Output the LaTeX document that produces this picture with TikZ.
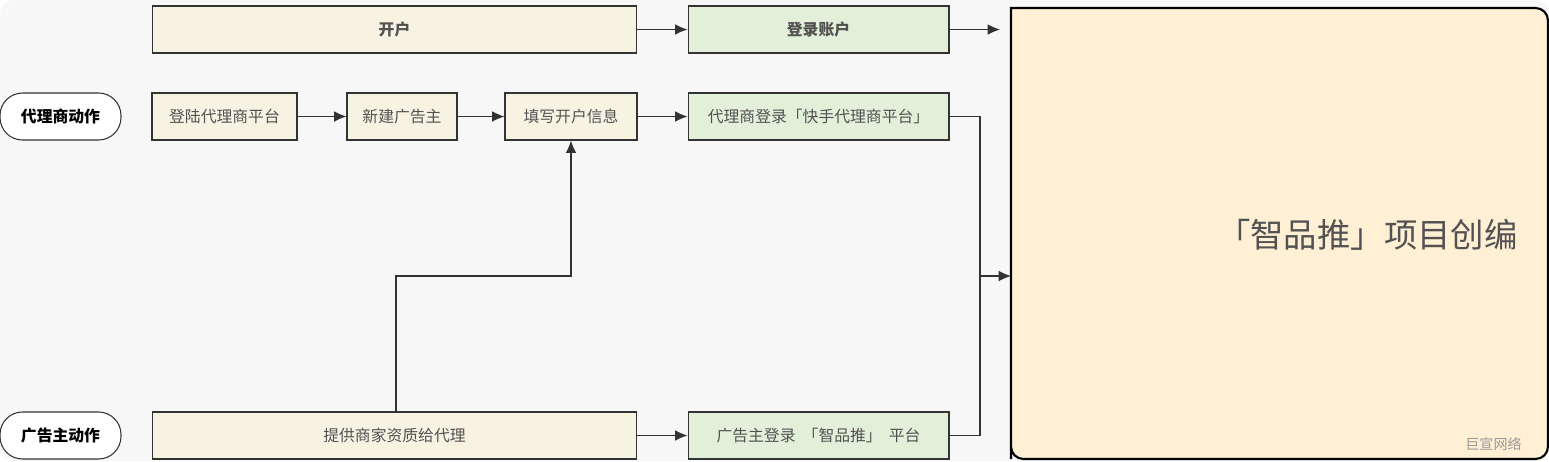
\documentclass[tikz,border=0pt]{standalone}
\usepackage{fontspec}
\setmainfont{Noto Sans CJK SC}
\usetikzlibrary{arrows.meta}
\definecolor{beige}{HTML}{F7F3E3}
\definecolor{mint}{HTML}{E2F0DA}
\definecolor{cream}{HTML}{FFF0D5}
\definecolor{ink}{HTML}{333333}
\begin{document}
\begin{tikzpicture}[x=0.02cm,y=-0.02cm,>={Latex[length=7pt,width=6pt]},
                    semithick,font=\fontsize{9pt}{11pt}\selectfont]
\tikzset{stage/.style={draw=ink,fill=beige,minimum height=0.94cm,inner sep=2pt,text=ink!85},
         login/.style={stage,fill=mint,minimum width=5.22cm},
         role/.style={draw=ink,fill=white,rounded corners=0.45cm,minimum width=2.42cm,minimum height=0.94cm,font=\fontsize{9pt}{11pt}\bfseries\selectfont}}

  % background
  \fill[fill=black!3,rounded corners=0.3cm] (0,0) rectangle (1549,461);
  \useasboundingbox (0,0) rectangle (1549,461);

  % header row
  \node[stage,minimum width=9.7cm,font=\fontsize{9pt}{11pt}\bfseries\selectfont]  (open)  at (394.5,29.5) {开户};
  \node[login,font=\fontsize{9pt}{11pt}\bfseries\selectfont] (login) at (818.5,29.5) {登录账户};
  \coordinate (loginend) at (1000,29.5);

  % agent row
  \node[role]                       (agent)  at (60.5,116.5)  {代理商动作};
  \node[stage,minimum width=2.9cm]  (portal) at (224.5,116.5) {登陆代理商平台};
  \node[stage,minimum width=2.2cm]  (newadv) at (402,116.5)   {新建广告主};
  \node[stage,minimum width=2.64cm] (fill)   at (571,116.5)   {填写开户信息};
  \node[login]                      (alogin) at (818.5,116.5) {代理商登录「快手代理商平台」};

  % advertiser row
  \node[role]                       (adv)    at (60.5,435.5)  {广告主动作};
  \node[stage,minimum width=9.7cm]  (docs)   at (394.5,435.5) {提供商家资质给代理};
  \node[login]                      (blogin) at (818.5,435.5) {广告主登录 \ 「智品推」 \ 平台};

  % project box
  \draw[very thick,fill=cream] (1011,459) -- (1011,8) [rounded corners=0.25cm] -- (1548,8) -- (1548,459) -- (1011,459) [sharp corners] -- cycle;
  \node[anchor=east,text=ink!85,font=\fontsize{19pt}{22pt}\selectfont] (proj) at (1524,235) {「智品推」项目创编};
  \node[anchor=east,text=black!40,font=\fontsize{8pt}{10pt}\selectfont] (mark) at (1528,444) {巨宣网络};
  \coordinate (projin) at (1011,276);
  \coordinate (join) at (980,276);

  % connectors
  \draw[->,ink] (open) -- (login);
  \draw[->,ink] (login) -- (loginend);
  \draw[->,ink] (portal) -- (newadv);
  \draw[->,ink] (newadv) -- (fill);
  \draw[->,ink] (fill) -- (alogin);
  \draw[->,ink] (docs) -- (blogin);
  \draw[->,ink] (docs.north -| 396,0) |- (571,276) -- (fill.south);
  \draw[ink] (alogin.east) -| (join) |- (blogin.east);
  \draw[->,ink] (join) -- (projin);
\end{tikzpicture}
\end{document}
